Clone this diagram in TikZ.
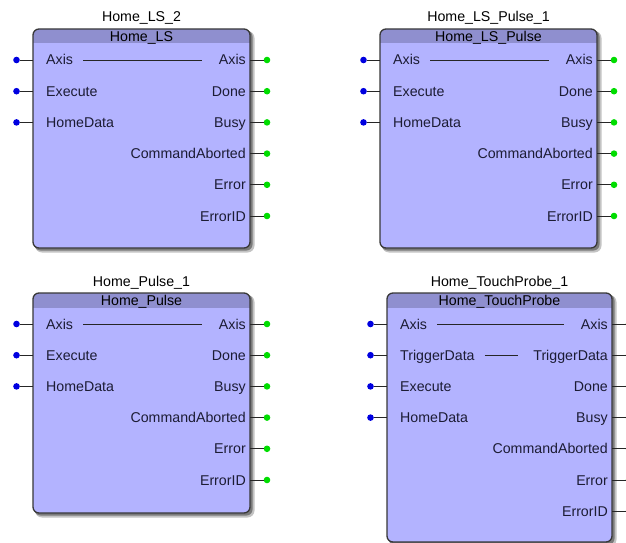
\documentclass[tikz,border=0pt]{standalone}
\usepackage{fontspec}
\setmainfont{Liberation Sans}
\definecolor{fbody}{HTML}{B3B3FF}
\definecolor{fhead}{HTML}{8F8FCF}
\definecolor{fedge}{HTML}{383838}
\definecolor{fshadow}{HTML}{7A7A7A}
\definecolor{pinin}{HTML}{0000E0}
\definecolor{pinout}{HTML}{00DD00}
\definecolor{ftext}{HTML}{1C1C34}

\tikzset{
  fblk/.style={fill=fbody, inner sep=0pt, outer sep=0pt, rounded corners=6pt},
  fborder/.style={draw=fedge, line width=1.3pt, rounded corners=6pt},
  pintext/.style={inner sep=0pt, text=ftext, font=\fontsize{14.2}{16}\selectfont},
  titletext/.style={inner sep=0pt, text=black, font=\fontsize{14.2}{16}\selectfont},
  pindot/.style={circle, inner sep=0pt, minimum size=6.6pt},
  pinline/.style={draw=black!85, line width=0.9pt},
  passline/.style={draw=black!85, line width=0.9pt},
}

% Function block: name, left, top, right, bottom, instance, type, inputs, outputs
\newcommand\funcblock[9]{%
  % drop shadow
  \fill[fshadow!45, rounded corners=7pt] (#2+2,#3+2) rectangle (#4+4.5,#5+4.5);
  \fill[fshadow, rounded corners=6pt] (#2+1.5,#3+1.5) rectangle (#4+2.5,#5+2.5);
  % body
  \node[fblk, anchor=north west, minimum width={#4-#2}, minimum height={#5-#3}] (#1) at (#2,#3) {};
  \begin{scope}
    \clip[rounded corners=6pt] (#2,#3) rectangle (#4,#5);
    \fill[fhead] (#2,#3) rectangle (#4,#3+14.5);
  \end{scope}
  \draw[fborder] (#1.north west) rectangle (#1.south east);
  % labels
  \node[titletext, anchor=base] (#1-inst) at ({(#2+#4)/2},#3-7) {#6};
  \node[titletext, anchor=base] (#1-type) at ({(#2+#4)/2},#3+12.5) {#7};
  % inputs
  \foreach \lbl [count=\i] in {#8} {
    \pgfmathsetmacro\yy{#3+31+31.2*(\i-1)}
    \node[pintext, anchor=base west] (#1-in\i) at (#2+13,\yy+5) {\lbl};
    \node[pindot, fill=pinin] (#1-ip\i) at (#2-16.5,\yy) {};
    \draw[pinline] (#1-ip\i) -- (#1-ip\i -| #1.west);
  }
  % outputs
  \foreach \lbl [count=\i] in {#9} {
    \pgfmathsetmacro\yy{#3+31+31.2*(\i-1)}
    \node[pintext, anchor=base east] (#1-out\i) at (#4-4,\yy+5) {\lbl};
    \node[pindot, fill=pinout] (#1-op\i) at (#4+17,\yy) {};
    \draw[pinline] (#1-op\i -| #1.east) -- (#1-op\i);
  }
}

\begin{document}
\begin{tikzpicture}[x=1pt, y=-1pt]
  \useasboundingbox (0,0) rectangle (626,543);
  \clip (0,0) rectangle (626,543);

  \funcblock{ls}{33}{29}{250}{248}{Home\_LS\_2}{Home\_LS}%
    {Axis,Execute,HomeData}{Axis,Done,Busy,CommandAborted,Error,ErrorID}
  \funcblock{lsp}{380}{29}{597}{248}{Home\_LS\_Pulse\_1}{Home\_LS\_Pulse}%
    {Axis,Execute,HomeData}{Axis,Done,Busy,CommandAborted,Error,ErrorID}
  \funcblock{pul}{33}{293}{250}{513}{Home\_Pulse\_1}{Home\_Pulse}%
    {Axis,Execute,HomeData}{Axis,Done,Busy,CommandAborted,Error,ErrorID}
  \funcblock{tp}{387}{293}{612}{542}{Home\_TouchProbe\_1}{Home\_TouchProbe}%
    {Axis,TriggerData,Execute,HomeData}{Axis,TriggerData,Done,Busy,CommandAborted,Error,ErrorID}

  % in-out pass-through variables
  \draw[passline] ([xshift=10pt]ls-in1.east |- ls-ip1) -- ([xshift=-17pt]ls-out1.west |- ls-op1);
  \draw[passline] ([xshift=10pt]lsp-in1.east |- lsp-ip1) -- ([xshift=-17pt]lsp-out1.west |- lsp-op1);
  \draw[passline] ([xshift=10pt]pul-in1.east |- pul-ip1) -- ([xshift=-17pt]pul-out1.west |- pul-op1);
  \draw[passline] ([xshift=10pt]tp-in1.east |- tp-ip1) -- ([xshift=-17pt]tp-out1.west |- tp-op1);
  \draw[passline] ([xshift=10pt]tp-in2.east |- tp-ip2) -- ([xshift=-15pt]tp-out2.west |- tp-op2);
\end{tikzpicture}
\end{document}
